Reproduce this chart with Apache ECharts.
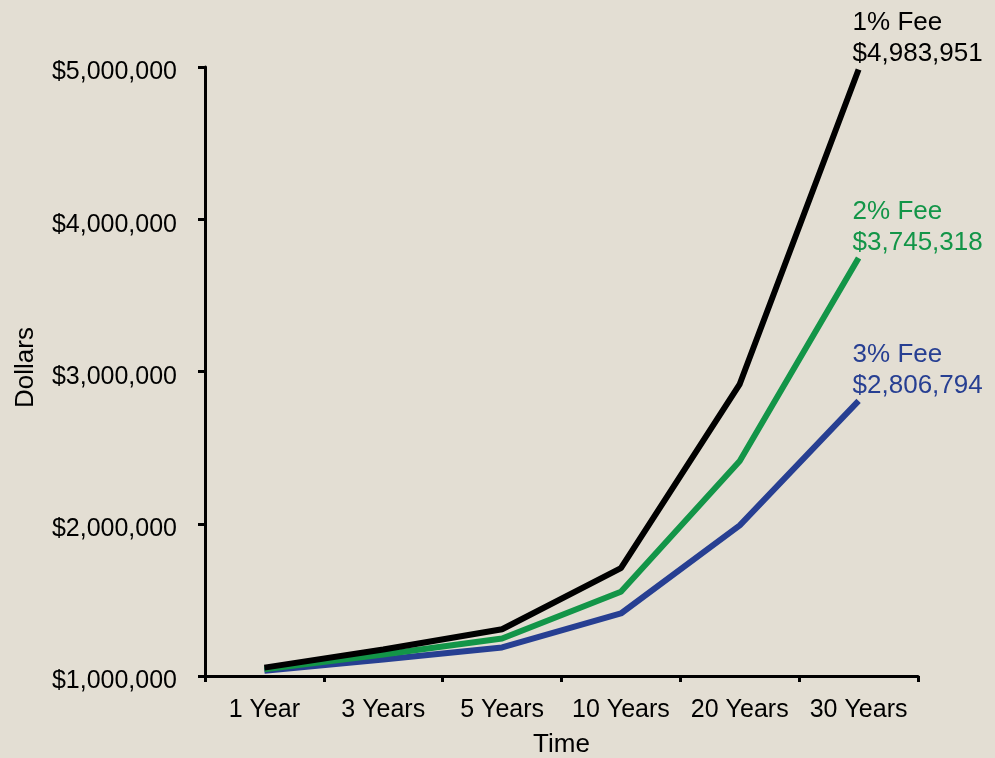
<!DOCTYPE html>
<html>
<head>
<meta charset="utf-8">
<script src="https://cdn.jsdelivr.net/npm/echarts@6/dist/echarts.min.js"></script>
<style>
  html, body { margin: 0; padding: 0; background: #e3ded3; }
  #main { width: 995px; height: 758px; }
</style>
</head>
<body>
<div id="main"></div>
<script>
var categories = ['1 Year', '3 Years', '5 Years', '10 Years', '20 Years', '30 Years'];
var fee1 = [1055000, 1174241, 1306960, 1708144, 2917757, 4983951];
var fee2 = [1045000, 1141166, 1246182, 1552969, 2411714, 3745318];
var fee3 = [1035000, 1108718, 1187686, 1410599, 1989789, 2806794];
var seriesNames = ['1% Fee', '2% Fee', '3% Fee'];
var colors = ['#000000', '#139548', '#273f92'];

function money(v) {
  return '$' + String(Math.round(v)).replace(/\B(?=(\d{3})+(?!\d))/g, ',');
}

// only the last point carries the "x% Fee / $value" label
function withEndLabel(arr, name, color) {
  return arr.map(function (v, i) {
    if (i < arr.length - 1) return v;
    return {
      value: v,
      label: {
        show: true,
        position: 'top',
        distance: 0,
        align: 'left',
        verticalAlign: 'bottom',
        offset: [-6, 0],
        color: color,
        fontSize: 26,
        lineHeight: 31,
        fontFamily: 'Liberation Sans',
        formatter: name + '\n' + money(v)
      }
    };
  });
}

var chart = echarts.init(document.getElementById('main'));
var option = {
  backgroundColor: '#e3ded3',
  animation: false,
  textStyle: { fontFamily: 'Liberation Sans' },
  grid: { left: 205, right: 77, top: 67, bottom: 82, containLabel: false, outerBoundsMode: 'none' },
  xAxis: {
    type: 'category',
    data: categories,
    boundaryGap: true,
    name: 'Time',
    nameLocation: 'middle',
    nameGap: 56,
    nameTextStyle: { color: '#000', fontSize: 26, fontFamily: 'Liberation Sans' },
    axisLine: { lineStyle: { color: '#000', width: 3 } },
    axisTick: { show: true, length: 6, lineStyle: { color: '#000', width: 3 } },
    axisLabel: { color: '#000', fontSize: 25, margin: 22, fontFamily: 'Liberation Sans', interval: 0 },
    splitLine: { show: false }
  },
  yAxis: {
    type: 'value',
    min: 1000000,
    max: 5000000,
    interval: 1000000,
    name: 'Dollars',
    nameLocation: 'middle',
    nameGap: 166,
    nameTextStyle: { color: '#000', fontSize: 26, fontFamily: 'Liberation Sans', padding: [0, 0, 0, 8] },
    axisLine: { show: true, lineStyle: { color: '#000', width: 3 } },
    axisTick: { show: true, length: 7, lineStyle: { color: '#000', width: 3 } },
    axisLabel: {
      color: '#000', fontSize: 25, margin: 28, fontFamily: 'Liberation Sans', formatter: money,
      verticalAlign: 'top', lineHeight: 11
    },
    splitLine: { show: false }
  },
  series: [fee1, fee2, fee3].map(function (arr, k) {
    return {
      name: seriesNames[k],
      type: 'line',
      data: withEndLabel(arr, seriesNames[k], colors[k]),
      symbol: 'circle',
      symbolSize: 0,
      showSymbol: true,
      z: 3 - k,
      lineStyle: { color: colors[k], width: 6 },
      itemStyle: { color: colors[k] }
    };
  })
};
chart.setOption(option);
</script>
</body>
</html>
